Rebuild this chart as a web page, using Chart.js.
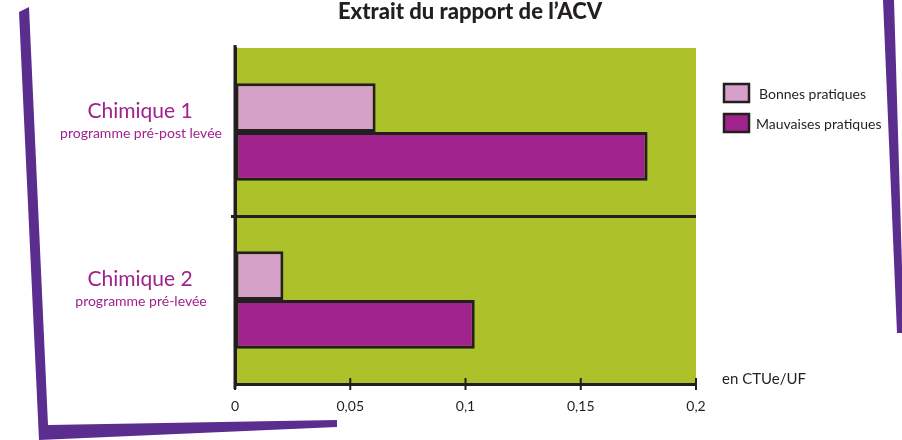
<!DOCTYPE html>
<html>
<head>
<meta charset="utf-8">
<script src="https://cdn.jsdelivr.net/npm/chart.js@4/dist/chart.umd.min.js"></script>
<style>
html,body{margin:0;padding:0;background:#fff;}
#wrap{position:relative;width:902px;height:440px;}
canvas{display:block;}
</style>
</head>
<body>
<div id="wrap"><canvas id="c" width="902" height="440"></canvas></div>
<script>
// ---- data ----
const categories = ['Chimique 1', 'Chimique 2'];
const subLabels = ['programme pré-post levée', 'programme pré-levée'];
const seriesNames = ['Bonnes pratiques', 'Mauvaises pratiques'];
const bonnesPratiques = [0.061, 0.021];
const mauvaisesPratiques = [0.179, 0.104];
const xTickLabels = ['0', '0,05', '0,1', '0,15', '0,2'];
const titleText = 'Extrait du rapport de l\u2019ACV';
const unitText = 'en CTUe/UF';

// ---- styles ----
const FONT = 'Lato, "Open Sans", sans-serif';
const INK = '#231f20';
const GREEN = '#adc22a';
const PINK = '#d6a1c8';
const PURPLE = '#a0228c';
const FRAME = '#5b2d8e';

const decoPlugin = {
  id: 'deco',
  beforeDraw(chart) {
    const ctx = chart.ctx, a = chart.chartArea;
    ctx.save();
    // decorative frame strokes
    ctx.fillStyle = FRAME;
    ctx.beginPath();
    ctx.moveTo(19, 12); ctx.lineTo(29, 7); ctx.lineTo(48, 425);
    ctx.lineTo(337, 420); ctx.lineTo(337, 427); ctx.lineTo(39, 440);
    ctx.closePath(); ctx.fill();
    ctx.beginPath();
    ctx.moveTo(883, 0); ctx.lineTo(894, 0); ctx.lineTo(904, 333); ctx.lineTo(897, 333);
    ctx.closePath(); ctx.fill();
    // plot background
    ctx.fillStyle = GREEN;
    ctx.fillRect(a.left, a.top, a.right - a.left, a.bottom - a.top);
    ctx.restore();
  },
  afterDraw(chart) {
    const ctx = chart.ctx, a = chart.chartArea;
    const xs = chart.scales.x, ys = chart.scales.y;
    ctx.save();
    // title
    ctx.fillStyle = INK;
    ctx.font = '900 22px ' + FONT;
    ctx.textAlign = 'center'; ctx.textBaseline = 'middle';
    ctx.fillText(titleText, 470, 12);
    // y-axis line extension & x tick marks
    ctx.strokeStyle = INK; ctx.lineWidth = 3;
    ctx.beginPath(); ctx.moveTo(a.left, a.top - 3); ctx.lineTo(a.left, a.bottom + 5); ctx.stroke();
    ctx.lineWidth = 2;
    xs.ticks.forEach((t) => {
      const px = xs.getPixelForValue(t.value);
      ctx.beginPath(); ctx.moveTo(px, a.bottom - 6); ctx.lineTo(px, a.bottom + 6); ctx.stroke();
    });
    // unit
    ctx.font = '15px ' + FONT;
    ctx.textAlign = 'left';
    ctx.fillText(unitText, a.right + 26, a.bottom - 5);
    // category labels
    ctx.fillStyle = PURPLE;
    ctx.textAlign = 'center';
    categories.forEach((c, i) => {
      const py = ys.getPixelForValue(i);
      ctx.font = '21px ' + FONT;
      ctx.fillText(c, 140, py - 21);
      ctx.font = '14px ' + FONT;
      ctx.fillText(subLabels[i], 141, py + 1);
    });
    // legend
    const fills = [PINK, PURPLE];
    ctx.textAlign = 'left';
    ctx.font = '14px ' + FONT;
    seriesNames.forEach((n, i) => {
      const y0 = 84 + i * 30;
      ctx.fillStyle = fills[i];
      ctx.fillRect(724, y0, 25, 18);
      ctx.strokeStyle = INK; ctx.lineWidth = 2.5;
      ctx.strokeRect(724, y0, 25, 18);
      ctx.fillStyle = INK;
      ctx.fillText(n, i === 0 ? 759 : 756, y0 + 10);
    });
    ctx.restore();
  }
};

new Chart(document.getElementById('c'), {
  type: 'bar',
  data: {
    labels: categories,
    datasets: [
      { label: seriesNames[0], data: bonnesPratiques, backgroundColor: PINK, borderColor: INK, borderWidth: 3, borderSkipped: false },
      { label: seriesNames[1], data: mauvaisesPratiques, backgroundColor: PURPLE, borderColor: INK, borderWidth: 3, borderSkipped: false }
    ]
  },
  options: {
    indexAxis: 'y',
    responsive: false,
    animation: false,
    devicePixelRatio: 1,
    layout: { padding: { top: 48, right: 206, left: 0, bottom: 0 } },
    datasets: { bar: { categoryPercentage: 0.58, barPercentage: 1 } },
    plugins: { legend: { display: false }, title: { display: false }, tooltip: { enabled: false } },
    scales: {
      x: {
        min: 0, max: 0.2,
        ticks: {
          stepSize: 0.05,
          color: INK,
          font: { family: FONT, size: 14 },
          padding: 8,
          callback: (v, i) => xTickLabels[i]
        },
        grid: { display: true, drawOnChartArea: false, drawTicks: true, tickLength: 6, color: 'rgba(0,0,0,0)' },
        border: { display: true, color: INK, width: 3 },
        afterFit(s) { s.height = 56; }
      },
      y: {
        offset: true,
        ticks: { display: false },
        grid: {
          offset: true,
          drawOnChartArea: true,
          drawTicks: true,
          tickLength: 4,
          lineWidth: 3,
          color: (ctx) => ctx.index === 1 ? INK : 'rgba(0,0,0,0)'
        },
        border: { display: true, color: INK, width: 3 },
        afterFit(s) { s.width = 235; }
      }
    }
  },
  plugins: [decoPlugin]
});
</script>
</body>
</html>
